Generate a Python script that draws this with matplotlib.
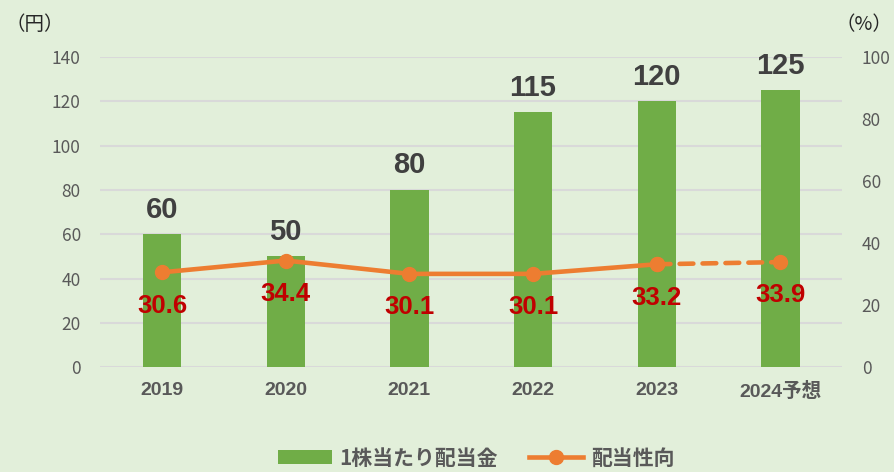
import matplotlib
matplotlib.use('Agg')
import matplotlib.pyplot as plt
from matplotlib.lines import Line2D
from matplotlib.patches import Patch

plt.rcParams['font.family'] = ['Noto Sans CJK JP', 'DejaVu Sans']

# データ
years = ['2019', '2020', '2021', '2022', '2023', '2024予想']
dividend = [60, 50, 80, 115, 120, 125]
payout = [30.6, 34.4, 30.1, 30.1, 33.2, 33.9]
payout_labels = ['30.6', '34.4', '30.1', '30.1', '33.2', '33.9']

bg = '#e2efda'
green = '#70ad47'
orange = '#ed7d31'
red = '#c00000'
grey = '#595959'
arialish = ['Liberation Sans', 'Noto Sans CJK JP']

fig = plt.figure(figsize=(8.95, 4.72), dpi=100, facecolor=bg)
ax = fig.add_axes([0.112, 0.222, 0.829, 0.657], facecolor=bg)
ax2 = ax.twinx()

x = list(range(len(years)))
ax.bar(x, dividend, width=0.31, color=green, zorder=2)
for xi, v in zip(x, dividend):
    ax.annotate(str(v), (xi, v), xytext=(0, 12), textcoords='offset points',
                ha='center', va='baseline', fontsize=21, fontweight='bold',
                color='#404040', family=arialish)

ax.set_ylim(0, 140)
ax.set_yticks(range(0, 141, 20))
ax.set_xlim(-0.5, len(years) - 0.5)
ax.grid(axis='y', color='#d9d9d9', linewidth=1.5, zorder=0)
ax.set_axisbelow(True)
ax.set_xticks(x)
ax.set_xticklabels(years, fontsize=14, fontweight='bold', color=grey, family=arialish)
ax.tick_params(axis='x', length=0, pad=11)
ax.tick_params(axis='y', length=0, labelsize=12.5, colors=grey, pad=14)
for s in ax.spines.values():
    s.set_visible(False)

# 配当性向 (実績は実線, 予想は破線)
ax2.plot(x[:5], payout[:5], color=orange, linewidth=3.3, marker='o', markersize=10,
         solid_capstyle='round', zorder=3)
ax2.plot(x[4:], payout[4:], color=orange, linewidth=3.3, linestyle=(0, (3, 2)),
         dash_capstyle='round', marker='o', markersize=10, zorder=3)
for xi, v, t in zip(x, payout, payout_labels):
    ax2.annotate(t, (xi, v), xytext=(0, -29), textcoords='offset points',
                 ha='center', va='baseline', fontsize=18.5, fontweight='bold',
                 color=red, family=arialish)
ax2.set_ylim(0, 100)
ax2.set_yticks(range(0, 101, 20))
ax2.tick_params(axis='y', length=0, labelsize=12.5, colors=grey, pad=14)
for s in ax2.spines.values():
    s.set_visible(False)

fig.text(0.006, 0.948, '（円）', fontsize=14, color='#262626', va='center')
fig.text(0.933, 0.948, '（%）', fontsize=14, color='#262626', va='center')

handles = [Patch(facecolor=green, label='1株当たり配当金'),
           Line2D([0], [0], color=orange, linewidth=3.3, marker='o', markersize=10,
                  label='配当性向')]
leg = fig.legend(handles=handles, loc='center', bbox_to_anchor=(0.532, 0.03), ncol=2,
                 frameon=False, fontsize=15, handlelength=2.6, handletextpad=0.35,
                 columnspacing=1.5, borderpad=0)
for t in leg.get_texts():
    t.set_fontweight('bold')
    t.set_color(grey)

fig.savefig('out.png', dpi=100, facecolor=bg)
